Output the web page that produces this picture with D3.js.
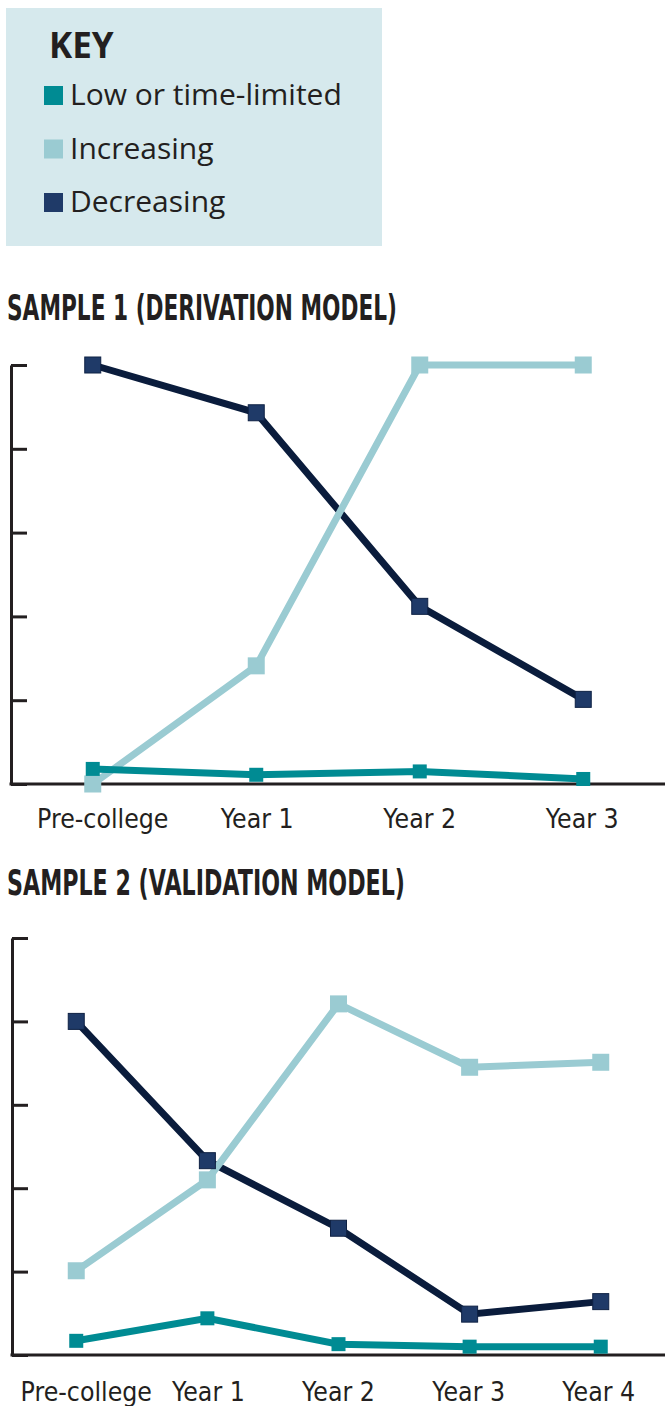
<!DOCTYPE html>
<html>
<head>
<meta charset="utf-8">
<script src="https://cdn.jsdelivr.net/npm/d3@7"></script>
<style>
  body { margin: 0; background: #fff; }
  svg { display: block; }
</style>
</head>
<body>
<svg id="chart" width="665" height="1406"></svg>
<script>
// data
var seriesNames = ["Low or time-limited", "Increasing", "Decreasing"];
var seriesColors = ["#008b93", "#9acbd2", "#1f3a68"];
var lineColors = ["#008b93", "#9acbd2", "#0a1c3c"];

var cats1 = ["Pre-college", "Year 1", "Year 2", "Year 3"];
var low1 = [1.8, 1.1, 1.5, 0.6];
var inc1 = [0, 14.1, 50, 50];
var dec1 = [50, 44.3, 21.2, 10.1];

var cats2 = ["Pre-college", "Year 1", "Year 2", "Year 3", "Year 4"];
var low2 = [1.7, 4.4, 1.3, 1.0, 1.0];
var inc2 = [10.1, 21.0, 42.1, 34.5, 35.1];
var dec2 = [40.0, 23.3, 15.2, 4.9, 6.4];

var yTicks = [0, 10, 20, 30, 40, 50];

var svg = d3.select("#chart");
var condensed = "'DejaVu Sans', sans-serif";

// legend
var key = svg.append("g").classed("legend", true);
key.append("rect").attr("x", 6).attr("y", 8).attr("width", 376).attr("height", 238)
   .attr("fill", "#d6e9ed");
key.append("text").attr("x", 49).attr("y", 58).text("KEY")
   .attr("font-family", "'Open Sans', sans-serif").attr("font-weight", 700)
   .attr("font-size", 35).attr("fill", "#231f20");
var rows = key.selectAll("g.row").data(seriesNames).enter().append("g").classed("row", true)
   .attr("transform", function(d, i) { return "translate(0," + (105 + i * 53.5) + ")"; });
rows.append("rect").attr("x", 44).attr("y", -19).attr("width", 19).attr("height", 19)
   .attr("fill", function(d, i) { return seriesColors[i]; });
rows.append("text").attr("x", 70).attr("y", 0).text(function(d) { return d; })
   .attr("font-family", "'Open Sans', sans-serif").attr("font-size", 30).attr("fill", "#231f20");

var drawChart = function(title, titleY, titleW, cats, series, left, top, bottom, pad, labelY) {
  var g = svg.append("g").classed("plot", true);

  g.append("text").attr("x", 7).attr("y", titleY).text(title)
   .attr("font-family", condensed).attr("font-weight", 700).attr("font-size", 35)
   .attr("textLength", titleW).attr("lengthAdjust", "spacingAndGlyphs")
   .attr("fill", "#231f20");

  var xScale = d3.scalePoint().domain(cats).range([left, 665]).padding(pad);
  var yScale = d3.scaleLinear().domain([0, 50]).range([bottom, top]);

  // y axis
  var yAxis = d3.axisLeft(yScale).tickValues(yTicks).tickSizeInner(-16).tickSizeOuter(0).tickFormat("");
  var ya = g.append("g").classed("yaxes", true).attr("transform", "translate(" + left + ",0)").call(yAxis);
  ya.select(".domain").attr("stroke", "#231f20").attr("stroke-width", 3);
  ya.selectAll(".tick line").attr("stroke", "#231f20").attr("stroke-width", 3);

  // x axis line
  var xAxis = d3.axisBottom(xScale).tickSize(0).tickFormat("");
  var xa = g.append("g").classed("xaxes", true).attr("transform", "translate(0," + bottom + ")").call(xAxis);
  xa.select(".domain").attr("d", "M" + (left - 1.5) + ",0H665").attr("stroke", "#231f20").attr("stroke-width", 3);

  // category labels (squeezed to look condensed)
  g.selectAll("text.cat").data(cats).enter().append("text").classed("cat", true)
   .attr("x", function(d, i) { return xScale(d) + (i === 0 ? 10 : 2 - i); })
   .attr("y", labelY).attr("text-anchor", "middle").text(function(d) { return d; })
   .attr("font-family", condensed).attr("font-size", 27).attr("fill", "#231f20")
   .each(function() {
     var w = this.getComputedTextLength();
     d3.select(this).attr("textLength", w * 0.88).attr("lengthAdjust", "spacingAndGlyphs");
   });

  var line = d3.line().x(function(d, i) { return xScale(cats[i]); }).y(function(d) { return yScale(d); });

  // lines: decreasing, increasing, low
  var order = [2, 1, 0];
  order.forEach(function(s) {
    g.append("path").datum(series[s]).attr("d", line).attr("fill", "none")
     .attr("stroke", lineColors[s]).attr("stroke-width", 7).attr("stroke-linejoin", "miter");
  });

  var sizes = [14, 17, 16];
  order.forEach(function(s) {
    g.selectAll("rect.m" + s).data(series[s]).enter().append("rect").classed("m" + s, true)
     .attr("x", function(d, i) { return xScale(cats[i]) - sizes[s] / 2; })
     .attr("y", function(d) { return yScale(d) - sizes[s] / 2; })
     .attr("width", sizes[s]).attr("height", sizes[s])
     .attr("fill", seriesColors[s])
     .attr("stroke", s === 2 ? "#0f2244" : "none").attr("stroke-width", 1);
  });
};

drawChart("SAMPLE 1 (DERIVATION MODEL)", 320, 390, cats1, [low1, inc1, dec1], 11, 365, 784, 0.5, 828);
drawChart("SAMPLE 2 (VALIDATION MODEL)", 895, 398, cats2, [low2, inc2, dec2], 12, 938, 1355, 0.49, 1401);
</script>
</body>
</html>
